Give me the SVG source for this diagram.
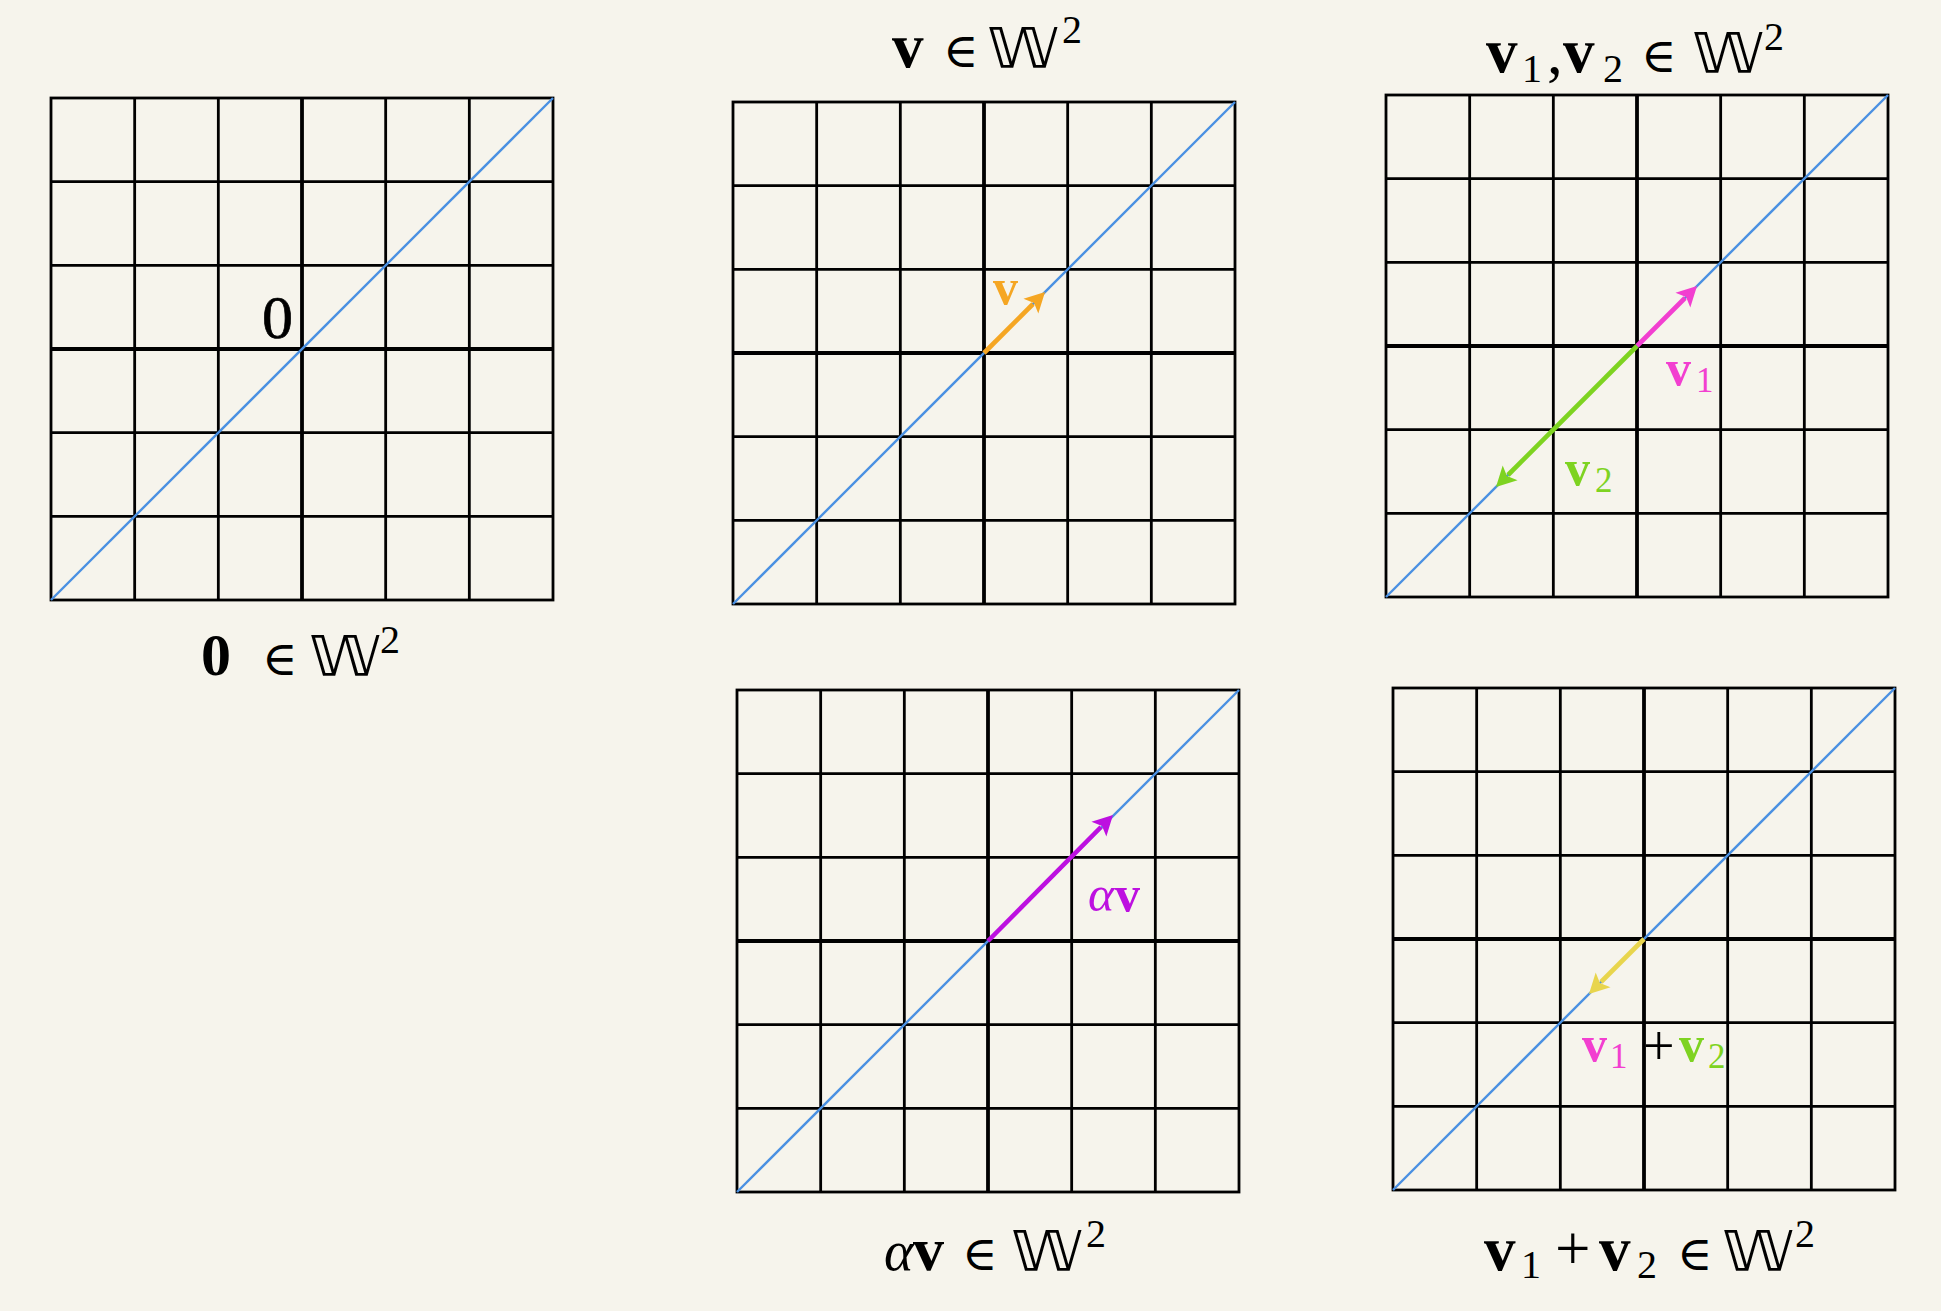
<svg xmlns="http://www.w3.org/2000/svg" xmlns:xlink="http://www.w3.org/1999/xlink" width="1941" height="1311" viewBox="0 0 1941 1311">
<style>
.t{font-family:"Liberation Serif","DejaVu Serif",serif;fill:#000}
.b{font-weight:bold}
.i{font-style:italic}
.bb{font-family:"DejaVu Sans","DejaVu Serif",sans-serif;font-size:55px;fill:#000}
.el{font-family:"DejaVu Serif","Liberation Serif",serif;font-size:48px}
.gl{stroke:#000;stroke-width:2.8;fill:none}
.gc{stroke:#000;stroke-width:3.8;fill:none}
.diag{stroke:#4A90E2;stroke-width:2.4}
.arr{stroke-width:4.6;fill:none}
</style>
<defs>
<g id="grid">
<rect x="0" y="0" width="502" height="502" class="gl"/>
<path class="gl" d="M83.67 0V502M167.33 0V502M334.67 0V502M418.33 0V502M0 83.67H502M0 167.33H502M0 334.67H502M0 418.33H502"/>
<path class="gc" d="M251 0V502M0 251H502"/>
<line class="diag" x1="0" y1="502" x2="502" y2="0"/>
</g>
<marker id="mO" markerUnits="userSpaceOnUse" viewBox="-4 -12 24 24" markerWidth="24" markerHeight="24" refX="0" refY="0" orient="auto" overflow="visible"><path d="M17 0L-3 -10.5L1.5 0L-3 10.5Z" fill="#F5A623"/></marker>
<marker id="mM" markerUnits="userSpaceOnUse" viewBox="-4 -12 24 24" markerWidth="24" markerHeight="24" refX="0" refY="0" orient="auto" overflow="visible"><path d="M17 0L-3 -10.5L1.5 0L-3 10.5Z" fill="#F23FD0"/></marker>
<marker id="mG" markerUnits="userSpaceOnUse" viewBox="-4 -12 24 24" markerWidth="24" markerHeight="24" refX="0" refY="0" orient="auto" overflow="visible"><path d="M17 0L-3 -10.5L1.5 0L-3 10.5Z" fill="#7ED321"/></marker>
<marker id="mP" markerUnits="userSpaceOnUse" viewBox="-4 -12 24 24" markerWidth="24" markerHeight="24" refX="0" refY="0" orient="auto" overflow="visible"><path d="M17 0L-3 -10.5L1.5 0L-3 10.5Z" fill="#BD10E0"/></marker>
<marker id="mY" markerUnits="userSpaceOnUse" viewBox="-4 -12 24 24" markerWidth="24" markerHeight="24" refX="0" refY="0" orient="auto" overflow="visible"><path d="M17 0L-3 -10.5L1.5 0L-3 10.5Z" fill="#E8D54D"/></marker>
</defs>
<rect width="1941" height="1311" fill="#F6F4EC"/>

<g id="panel-zero">
<use xlink:href="#grid" transform="translate(51,98)"/>
<text class="t" x="262" y="338" font-size="62" stroke="#000" stroke-width="0.7">0</text>
<text class="t" y="675"><tspan class="b" x="201" font-size="60">0</tspan><tspan class="el" x="262">∈</tspan><tspan x="380" y="653" font-size="40">2</tspan></text>
<text class="bb" x="309" y="675" textLength="72" lengthAdjust="spacingAndGlyphs">𝕎</text>
</g>

<g id="panel-v">
<use xlink:href="#grid" transform="translate(733,102)"/>
<text class="t b" x="993" y="304" font-size="50" style="fill:#F5A623">v</text>
<text class="t" y="67"><tspan class="b" x="892" font-size="63">v</tspan><tspan class="el" x="943">∈</tspan><tspan x="1062" y="43" font-size="40">2</tspan></text>
<text class="bb" x="987" y="67" textLength="72" lengthAdjust="spacingAndGlyphs">𝕎</text>
</g>

<g id="panel-v1v2">
<use xlink:href="#grid" transform="translate(1386,95)"/>
<text class="t" style="fill:#F23FD0"><tspan class="b" x="1666" y="385" font-size="50">v</tspan><tspan x="1696" y="392" font-size="35">1</tspan></text>
<text class="t" style="fill:#7ED321"><tspan class="b" x="1565" y="485" font-size="50">v</tspan><tspan x="1595" y="492" font-size="35">2</tspan></text>
<text class="t" y="72"><tspan class="b" x="1486" font-size="63">v</tspan><tspan x="1522" y="82" font-size="40">1</tspan><tspan x="1547" y="74" font-size="63">,</tspan><tspan class="b" x="1563" y="72" font-size="63">v</tspan><tspan x="1603" y="82" font-size="40">2</tspan><tspan class="el" x="1641" y="72">∈</tspan><tspan x="1764" y="50" font-size="40">2</tspan></text>
<text class="bb" x="1692" y="72" textLength="72" lengthAdjust="spacingAndGlyphs">𝕎</text>
</g>

<g id="panel-alpha">
<use xlink:href="#grid" transform="translate(737,690)"/>
<text class="t" y="911" style="fill:#BD10E0"><tspan class="i" x="1088" font-size="50">α</tspan><tspan class="b" x="1115" font-size="50">v</tspan></text>
<text class="t" y="1270"><tspan class="i" x="884" font-size="56">α</tspan><tspan class="b" x="913" font-size="62">v</tspan><tspan class="el" x="962">∈</tspan><tspan x="1086" y="1247" font-size="40">2</tspan></text>
<text class="bb" x="1011" y="1270" textLength="72" lengthAdjust="spacingAndGlyphs">𝕎</text>
</g>

<g id="panel-sum">
<use xlink:href="#grid" transform="translate(1393,688)"/>
<text class="t"><tspan class="b" x="1582" y="1061" font-size="50" style="fill:#F23FD0">v</tspan><tspan x="1610" y="1068" font-size="35" style="fill:#F23FD0">1</tspan><tspan x="1643" y="1065" font-size="56">+</tspan><tspan class="b" x="1679" y="1061" font-size="50" style="fill:#7ED321">v</tspan><tspan x="1708" y="1068" font-size="35" style="fill:#7ED321">2</tspan></text>
<text class="t" y="1270"><tspan class="b" x="1484" font-size="63">v</tspan><tspan x="1521" y="1278" font-size="40">1</tspan><tspan x="1555" y="1270" font-size="63">+</tspan><tspan class="b" x="1599" y="1270" font-size="63">v</tspan><tspan x="1637" y="1278" font-size="40">2</tspan><tspan class="el" x="1677" y="1270">∈</tspan><tspan x="1795" y="1247" font-size="40">2</tspan></text>
<text class="bb" x="1722" y="1270" textLength="72" lengthAdjust="spacingAndGlyphs">𝕎</text>
</g>

<g id="connectors">
<line class="arr" x1="984" y1="353" x2="1033" y2="304" stroke="#F5A623" marker-end="url(#mO)"/>
<line class="arr" x1="1637" y1="346" x2="1685" y2="298" stroke="#F23FD0" marker-end="url(#mM)"/>
<line class="arr" x1="1637" y1="346" x2="1508" y2="475" stroke="#7ED321" marker-end="url(#mG)"/>
<line class="arr" x1="988" y1="941" x2="1101" y2="827" stroke="#BD10E0" marker-end="url(#mP)"/>
<line class="arr" x1="1644" y1="939" x2="1601" y2="982" stroke="#E8D54D" marker-end="url(#mY)"/>
</g>
</svg>
